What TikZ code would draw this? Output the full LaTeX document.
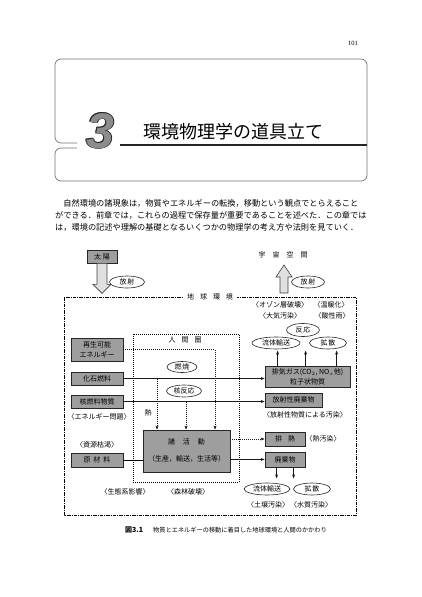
\documentclass[tikz,border=0pt]{standalone}
\usepackage{fontspec}
\setmainfont{Noto Sans CJK JP}
\newfontfamily\serifl{Liberation Serif}
\newfontfamily\numfont{Liberation Sans}
\usetikzlibrary{arrows.meta,shapes.geometric,calc}
\tikzset{
  lab/.style={inner sep=0pt, font=\fontsize{7}{8}\selectfont, text height=6.1pt, text depth=0.9pt},
  gbox/.style={lab, draw=black!85, fill=black!38, line width=0.8pt},
  ell/.style={lab, ellipse, draw=black!85, line width=0.6pt, fill=white},
  arr/.style={-{Stealth[length=4pt,width=3pt]}, line width=0.6pt, draw=black!90},
  darr/.style={arr, dash pattern=on 1pt off 1pt},
  para/.style={inner sep=0pt, anchor=west, font=\fontsize{8.2}{9}\selectfont, text height=7.2pt, text depth=1pt},
  hbox/.style={draw=black!55, line width=0.7pt, rounded corners=6pt},
  three/.style={inner sep=0pt, anchor=base, font=\numfont\bfseries\itshape\fontsize{50}{50}\selectfont},
  hollow/.style={draw=black!75, fill=black!12, line width=0.6pt},
}
\begin{document}
\begin{tikzpicture}[x=1pt,y=-1pt]
\useasboundingbox[fill=white] (0,0) rectangle (421,597);

% page number
\node[font=\serifl\fontsize{6.5}{7}\selectfont, inner sep=0pt] (pg) at (353,43) {101};

% chapter heading frame
\draw[hbox] (77,143) -- (55,143) -- (55,59) -- (367,59) -- (367,181) -- (55,181) -- (55,148) -- (77,148);
\draw[line width=1.1pt, black!85] (120,145) -- (367,145);
\node[three, text=black!85] (t3a) at (99.3,148.7) {3};
\node[three, text=black!85] (t3b) at (100.7,148.7) {3};
\node[three, text=black!85] (t3c) at (99.3,147.3) {3};
\node[three, text=black!85] (t3d) at (100.7,147.3) {3};
\node[three, text=black!85] (t3e) at (101.2,148.9) {3};
\node[three, text=black!45] (t3) at (100,148) {3};
\node[inner sep=0pt, anchor=west, font=\fontsize{18}{20}\selectfont, text height=15.8pt, text depth=2.2pt] (title) at (143,132) {環境物理学の道具立て};

% paragraph
\node[para] (p1) at (63.2,203) {自然環境の諸現象は，物質やエネルギーの転換，移動という観点でとらえること};
\node[para] (p2) at (55,215) {ができる．前章では，これらの過程で保存量が重要であることを述べた．この章では};
\node[para] (p3) at (55,227) {は，環境の記述や理解の基礎となるいくつかの物理学の考え方や法則を見ていく．};

% outer frame (earth environment)
\draw[line width=0.8pt, dash pattern=on 3.5pt off 1pt on 1pt off 1pt] (64,297) rectangle (356,515);
\node[lab, fill=white, inner xsep=4pt] (earth) at (210,297) {地\hspace{6pt}球\hspace{6pt}環\hspace{6pt}境};

% human sphere
\draw[line width=0.8pt, dash pattern=on 1pt off 1pt] (133,334) rectangle (239,482);
\node[lab] (human) at (185,340) {人\hspace{6pt}間\hspace{6pt}圏};

% sun and radiation
\node[gbox, minimum width=30pt, minimum height=13pt] (sun) at (102,256.5) {太\hspace{2pt}陽};
\draw[hollow] ($(sun.south)+(-5,0)$) -- ++(0,21) -- ++(-4,0) -- ($(sun.south)+(0,30)$) -- ($(sun.south)+(9,21)$) -- ++(-4,0) -- ($(sun.south)+(5,0)$) -- cycle;
\node[ell, minimum width=35pt, minimum height=12pt] (rad1) at (127,282) {放\hspace{1pt}射};

\node[lab] (space) at (283,255) {宇\hspace{7pt}宙\hspace{7pt}空\hspace{7pt}間};
\coordinate (ua) at (284,293);
\draw[hollow] ($(ua)+(-4,0)$) -- ++(0,-16) -- ++(-4,0) -- ($(ua)+(0,-28)$) -- ($(ua)+(8,-16)$) -- ++(-4,0) -- ($(ua)+(4,0)$) -- cycle;
\node[ell, minimum width=33pt, minimum height=12pt] (rad2) at (308,282) {放\hspace{1pt}射};

% atmosphere labels
\node[lab] (ozone) at (280,305) {〈オゾン層破壊〉};
\node[lab] (warm) at (331,305) {〈温暖化〉};
\node[lab] (air) at (280,316) {〈大気汚染〉};
\node[lab] (acid) at (332,316) {〈酸性雨〉};
\node[ell, minimum width=33pt, minimum height=13pt] (react) at (303,330) {反\hspace{1pt}応};
\node[ell, minimum width=48pt, minimum height=12pt] (flow1) at (276,343) {流体輸送};
\node[ell, minimum width=37pt, minimum height=12pt] (diff1) at (328,343) {拡\hspace{1pt}散};

% resource boxes
\node[gbox, minimum width=52pt, minimum height=23pt] (renew) at (97,349.5) {};
\node[lab] (renewa) at (97,344.5) {再生可能};
\node[lab] (renewb) at (97,354.5) {エネルギー};
\node[gbox, minimum width=52pt, minimum height=13pt] (fossil) at (97,378.5) {化石燃料};
\node[gbox, minimum width=52pt, minimum height=13pt] (nuclear) at (97,401.5) {核燃料物質};
\node[lab] (energy) at (99,417) {〈エネルギー問題〉};
\node[lab] (deplete) at (97,445) {〈資源枯渇〉};
\node[gbox, minimum width=52pt, minimum height=14pt] (raw) at (97,460) {原\hspace{3pt}材\hspace{3pt}料};

\node[ell, minimum width=30pt, minimum height=11pt] (burn) at (182,367) {燃\hspace{1pt}焼};
\node[ell, minimum width=35pt, minimum height=12pt] (nucr) at (184,391) {核反応};
\node[lab] (heatlab) at (148,413) {熱};

% activities
\node[gbox, minimum width=87pt, minimum height=42pt] (act) at (186.5,451) {};
\node[lab] (acta) at (186.5,442) {諸\hspace{8pt}活\hspace{8pt}動};
\node[lab] (actb) at (186.5,459) {（生産，輸送，生活等）};

% output boxes
\node[gbox, minimum width=85pt, minimum height=21pt] (gas) at (307.5,376.5) {};
\node[lab] (gasa) at (307.5,371.5) {排気ガス(CO$_2$, NO$_x$他)};
\node[lab] (gasb) at (307.5,382) {粒子状物質};
\node[gbox, minimum width=57pt, minimum height=14pt] (radw) at (293.5,400) {放射性廃棄物};
\node[lab] (radpol) at (305,415) {〈放射性物質による汚染〉};
\node[gbox, minimum width=40pt, minimum height=14pt] (heat) at (285,439) {排\hspace{6pt}熱};
\node[lab] (heatpol) at (323,439) {〈熱汚染〉};
\node[gbox, minimum width=40pt, minimum height=15pt] (waste) at (285,459.5) {廃棄物};
\node[ell, minimum width=46pt, minimum height=12pt] (flow2) at (267,489) {流体輸送};
\node[ell, minimum width=37pt, minimum height=12pt] (diff2) at (312,489) {拡\hspace{1pt}散};
\node[lab] (soil) at (268,505) {〈土壌汚染〉};
\node[lab] (water) at (311,505) {〈水質汚染〉};
\node[lab] (eco) at (125,492) {〈生態系影響〉};
\node[lab] (forest) at (188,492) {〈森林破壊〉};

% connectors
\draw[arr] (fossil.east) -- (fossil.east -| gas.west);
\draw[arr] (nuclear.east) -- (nuclear.east -| radw.west);
\coordinate (rc) at (215,349.5);
\draw[darr] (renew.east) -- (rc) -- (rc |- act.north);
\coordinate (fc) at (157,378.5);
\draw[darr] (fc) -- (fc |- act.north);
\coordinate (nc) at (186,401.5);
\draw[darr] (nc) -- (nc |- act.north);
\draw[darr] (heat.west -| act.east) -- (heat.west);
\draw[arr] (waste.west -| act.east) -- (waste.west);
\draw[line width=0.6pt] (raw.east) -- (raw.east -| act.west);
\draw[arr] ($(gas.north west)+(13,0)$) -- ++(0,-15);
\draw[arr] ($(gas.north west)+(41,0)$) -- ++(0,-15);
\draw[arr] ($(gas.north west)+(72,0)$) -- ++(0,-15);
\draw[arr] ($(waste.south west)+(12,0)$) -- ++(0,11);
\draw[arr] ($(waste.south west)+(29,0)$) -- ++(0,11);

% caption
\node[inner sep=0pt, anchor=west, font=\bfseries\fontsize{7}{8}\selectfont, text height=6.1pt, text depth=0.9pt] (figno) at (125,530) {図3.1};
\node[inner sep=0pt, anchor=west, font=\fontsize{6.2}{7}\selectfont, text height=5.5pt, text depth=0.8pt] (cap) at (153,530) {物質とエネルギーの移動に着目した地球環境と人間のかかわり};
\end{tikzpicture}
\end{document}
